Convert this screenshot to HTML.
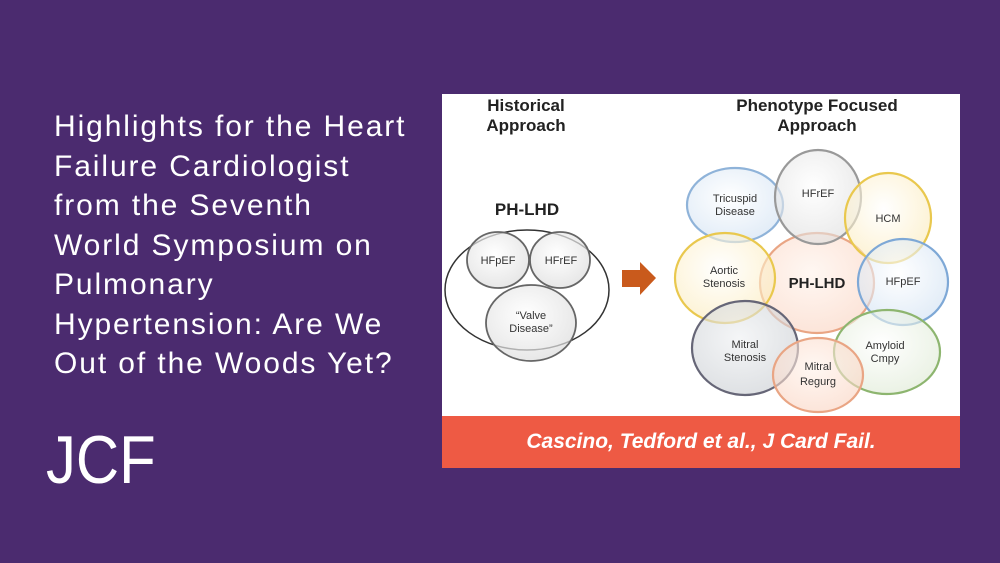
<!DOCTYPE html>
<html><head><meta charset="utf-8"><style>
html,body{margin:0;padding:0}
body{width:1000px;height:563px;background:#4b2b6f;position:relative;overflow:hidden;font-family:"Liberation Sans",sans-serif}
.t{position:absolute;left:54px;top:107px;color:#fff;font-size:30px;line-height:39.5px;white-space:nowrap;letter-spacing:1.9px}
.j{position:absolute;left:46px;top:420px;color:#fff;font-size:68px;line-height:80px;letter-spacing:0px;transform:scaleX(0.88);transform-origin:left top}
.fig{position:absolute;left:442px;top:94px;width:518px;height:322px;background:#fff}
.band{position:absolute;left:442px;top:416px;width:518px;height:52px;background:#ee5a44;color:#fff;font-style:italic;font-weight:bold;font-size:21px;line-height:52px;text-align:center}
</style></head><body>
<div class="t">Highlights for the Heart<br>Failure Cardiologist<br>from the Seventh<br>World Symposium on<br>Pulmonary<br>Hypertension: Are We<br>Out of the Woods Yet?</div>
<div class="j">JCF</div>
<div class="fig"></div>
<svg style="position:absolute;left:0;top:0" width="1000" height="563" font-family="Liberation Sans, sans-serif">
<defs>
<radialGradient id="g" cx="45%" cy="40%" r="60%"><stop offset="0" stop-color="#fff"/><stop offset="1" stop-color="#ddd"/></radialGradient>
<radialGradient id="b" cx="45%" cy="40%" r="60%"><stop offset="0" stop-color="#fff"/><stop offset="1" stop-color="#cfe0f2"/></radialGradient>
<radialGradient id="y" cx="45%" cy="40%" r="60%"><stop offset="0" stop-color="#fff"/><stop offset="1" stop-color="#fbeab8"/></radialGradient>
<radialGradient id="o" cx="45%" cy="40%" r="60%"><stop offset="0" stop-color="#fff2ea"/><stop offset="1" stop-color="#fad3c0"/></radialGradient>
<radialGradient id="gr" cx="45%" cy="40%" r="60%"><stop offset="0" stop-color="#fff"/><stop offset="1" stop-color="#dde9d3"/></radialGradient>
<radialGradient id="d" cx="45%" cy="40%" r="60%"><stop offset="0" stop-color="#eef0f2"/><stop offset="1" stop-color="#c9cdd2"/></radialGradient>
</defs>
<g font-weight="bold" font-size="17" fill="#222" text-anchor="middle">
<text x="526" y="111">Historical</text><text x="526" y="131">Approach</text>
<text x="817" y="111">Phenotype Focused</text><text x="817" y="131">Approach</text>
<text x="527" y="215">PH-LHD</text>
</g>
<ellipse cx="527" cy="290" rx="82" ry="60" fill="none" stroke="#333" stroke-width="1.5"/>
<g stroke="#666" stroke-width="1.8" fill="url(#g)" fill-opacity="0.7">
<ellipse cx="498" cy="260" rx="31" ry="28"/><ellipse cx="560" cy="260" rx="30" ry="28"/><ellipse cx="531" cy="323" rx="45" ry="38"/>
</g>
<g font-size="11" fill="#333" text-anchor="middle">
<text x="498" y="264">HFpEF</text><text x="561" y="264">HFrEF</text>
<text x="531" y="319">“Valve</text><text x="531" y="332">Disease”</text>
</g>
<polygon points="622,270 640,270 640,262 656,278 640,295 640,287 622,287" fill="#c95a1c"/>
<g stroke-width="2.2" fill-opacity="0.6">
<ellipse cx="817" cy="283" rx="57" ry="50" fill="url(#o)" stroke="#e9a584"/>
<ellipse cx="735" cy="205" rx="48" ry="37" fill="url(#b)" stroke="#8fb3d9"/>
<ellipse cx="818" cy="197" rx="43" ry="47" fill="url(#g)" stroke="#999"/>
<ellipse cx="888" cy="218" rx="43" ry="45" fill="url(#y)" stroke="#e9c84e"/>
<ellipse cx="725" cy="278" rx="50" ry="45" fill="url(#y)" stroke="#e9c84e"/>
<ellipse cx="903" cy="282" rx="45" ry="43" fill="url(#b)" stroke="#7ea8d6"/>
<ellipse cx="745" cy="348" rx="53" ry="47" fill="url(#d)" stroke="#667"/>
<ellipse cx="887" cy="352" rx="53" ry="42" fill="url(#gr)" stroke="#8db56f"/>
<ellipse cx="818" cy="375" rx="45" ry="37" fill="url(#o)" stroke="#e9a584"/>
</g>
<g font-size="11" fill="#333" text-anchor="middle">
<text x="735" y="202">Tricuspid</text><text x="735" y="215">Disease</text>
<text x="818" y="197">HFrEF</text>
<text x="888" y="222">HCM</text>
<text x="724" y="274">Aortic</text><text x="724" y="287">Stenosis</text>
<text x="903" y="285">HFpEF</text>
<text x="745" y="348">Mitral</text><text x="745" y="361">Stenosis</text>
<text x="885" y="349">Amyloid</text><text x="885" y="362">Cmpy</text>
<text x="818" y="370">Mitral</text><text x="818" y="385">Regurg</text>
<text x="817" y="288" font-size="15" font-weight="bold" fill="#222">PH-LHD</text>
</g>
</svg>
<div class="band">Cascino, Tedford et al., J Card Fail.</div>
</body></html>
